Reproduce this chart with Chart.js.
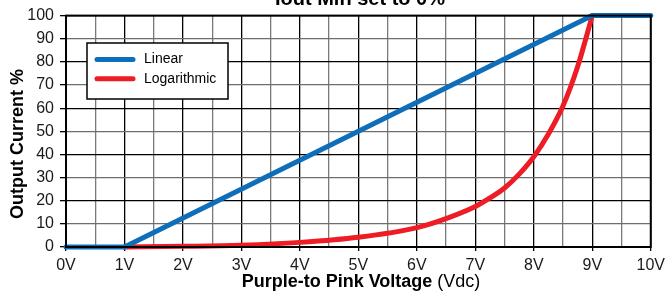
<!DOCTYPE html>
<html>
<head>
<meta charset="utf-8">
<script src="https://cdn.jsdelivr.net/npm/chart.js@4"></script>
<style>
  html, body { margin: 0; padding: 0; background: #fff; }
  #wrap { width: 670px; height: 295px; }
</style>
</head>
<body>
<div id="wrap"><canvas id="myChart" width="670" height="295"></canvas></div>
<script>
let chart

// data
const linearVolts = [0, 1, 9, 10];
const linearPct   = [0, 0, 100, 100];
const logVolts = [1, 2, 3, 4, 5, 6, 6.5, 7, 7.25, 7.5, 7.75, 8, 8.25, 8.5, 8.75, 9];
const logPct   = [0, 0.3, 0.8, 2, 4.2, 8.4, 12.3, 17.5, 21.2, 25.5, 31.5, 39, 48.8, 61, 78, 100];
const seriesNames = ["Linear", "Logarithmic"];
const seriesColors = ["#0e6eb9", "#ee1c25"];
const titleText = "Iout Min set to 0%";

Chart.defaults.font.family = "'Liberation Sans', Arial, sans-serif";
Chart.defaults.color = '#1a1a1a';

const pts = (xs, ys) => xs.map((x, i) => ({x: x, y: ys[i]}));

// title (clipped at top), axis titles and the boxed legend
const decor = {
    id: 'decor',
    afterDraw(c) {
        const ctx = c.ctx, a = c.chartArea;
        ctx.save();
        ctx.fillStyle = '#000';
        ctx.font = "bold 20px 'Liberation Sans', Arial";
        ctx.textAlign = 'center';
        ctx.textBaseline = 'alphabetic';
        ctx.fillText(titleText, 360, 5);

        // x title: bold part + normal part
        const bold = "Purple-to Pink Voltage", norm = " (Vdc)";
        ctx.font = "bold 18px 'Liberation Sans', Arial";
        const wb = ctx.measureText(bold).width;
        ctx.font = "18px 'Liberation Sans', Arial";
        const wn = ctx.measureText(norm).width;
        let x0 = 361 - (wb + wn) / 2;
        ctx.textAlign = 'left';
        ctx.font = "bold 18px 'Liberation Sans', Arial";
        ctx.fillText(bold, x0, 287);
        ctx.font = "18px 'Liberation Sans', Arial";
        ctx.fillText(norm, x0 + wb, 287);

        // y title
        ctx.save();
        ctx.translate(18.5, 144);
        ctx.rotate(-Math.PI / 2);
        ctx.textAlign = 'center';
        ctx.textBaseline = 'middle';
        ctx.font = "bold 18px 'Liberation Sans', Arial";
        ctx.fillText("Output Current %", 0, 0);
        ctx.restore();

        // legend box
        const lx = 87, ly = 43, lw = 141, lh = 56;
        ctx.fillStyle = '#fff';
        ctx.fillRect(lx, ly, lw, lh);
        ctx.strokeStyle = '#000';
        ctx.lineWidth = 1.5;
        ctx.strokeRect(lx, ly, lw, lh);
        ctx.lineCap = 'round';
        ctx.lineWidth = 5;
        ctx.font = "14px 'Liberation Sans', Arial";
        ctx.textBaseline = 'middle';
        seriesNames.forEach((name, i) => {
            const y = 59.5 + i * 19.3;
            ctx.strokeStyle = seriesColors[i];
            ctx.beginPath();
            ctx.moveTo(97, y);
            ctx.lineTo(133, y);
            ctx.stroke();
            ctx.fillStyle = '#000';
            ctx.fillText(name, 144, y);
        });

        // frame
        ctx.lineCap = 'butt';
        ctx.lineWidth = 2;
        ctx.strokeStyle = '#000';
        ctx.strokeRect(a.left, a.top, a.right - a.left, a.bottom - a.top);
        ctx.restore();
    }
};

const config = {
    type: 'scatter',
    data: {
        datasets: [
            {
                label: seriesNames[0],
                data: pts(linearVolts, linearPct),
                showLine: true,
                borderColor: seriesColors[0],
                backgroundColor: seriesColors[0],
                borderWidth: 5,
                borderCapStyle: 'round',
                borderJoinStyle: 'round',
                pointRadius: 0,
                clip: false,
            },
            {
                label: seriesNames[1],
                data: pts(logVolts, logPct),
                showLine: true,
                borderColor: seriesColors[1],
                backgroundColor: seriesColors[1],
                borderWidth: 5,
                borderCapStyle: 'round',
                cubicInterpolationMode: 'monotone',
                pointRadius: 0,
                clip: false,
            },
        ]
    },
    options: {
        responsive: false,
        animation: false,
        events: [],
        layout: {padding: {top: 13, right: 12, left: 0, bottom: 0}},
        plugins: {
            legend: {display: false},
            tooltip: {enabled: false},
        },
        scales: {
            x: {
                type: 'linear',
                min: 0, max: 10,
                afterFit: s => { s.height = 48; },
                border: {display: false},
                grid: {
                    color: c => Number.isInteger(c.tick.value) ? '#000' : '#7a7a7a',
                    lineWidth: 1.3,
                    tickLength: 4,
                    tickColor: c => Number.isInteger(c.tick.value) ? '#000' : 'rgba(0,0,0,0)',
                },
                ticks: {
                    stepSize: 0.5,
                    autoSkip: false,
                    maxRotation: 0,
                    padding: 5,
                    color: '#1a1a1a',
                    font: {size: 16},
                    callback: v => Number.isInteger(v) ? v + 'V' : '',
                },
            },
            y: {
                min: 0, max: 100,
                afterFit: s => { s.width = 66; },
                border: {display: false},
                grid: {
                    color: c => c.tick.value % 20 === 0 ? '#000' : '#6e6e6e',
                    lineWidth: 1.3,
                    tickLength: 6,
                    tickColor: '#000',
                },
                ticks: {
                    stepSize: 10,
                    padding: 6,
                    color: '#1a1a1a',
                    font: {size: 16},
                },
            },
        },
    },
    plugins: [decor],
};

chart = new Chart(document.getElementById('myChart'), config);
</script>
</body>
</html>
